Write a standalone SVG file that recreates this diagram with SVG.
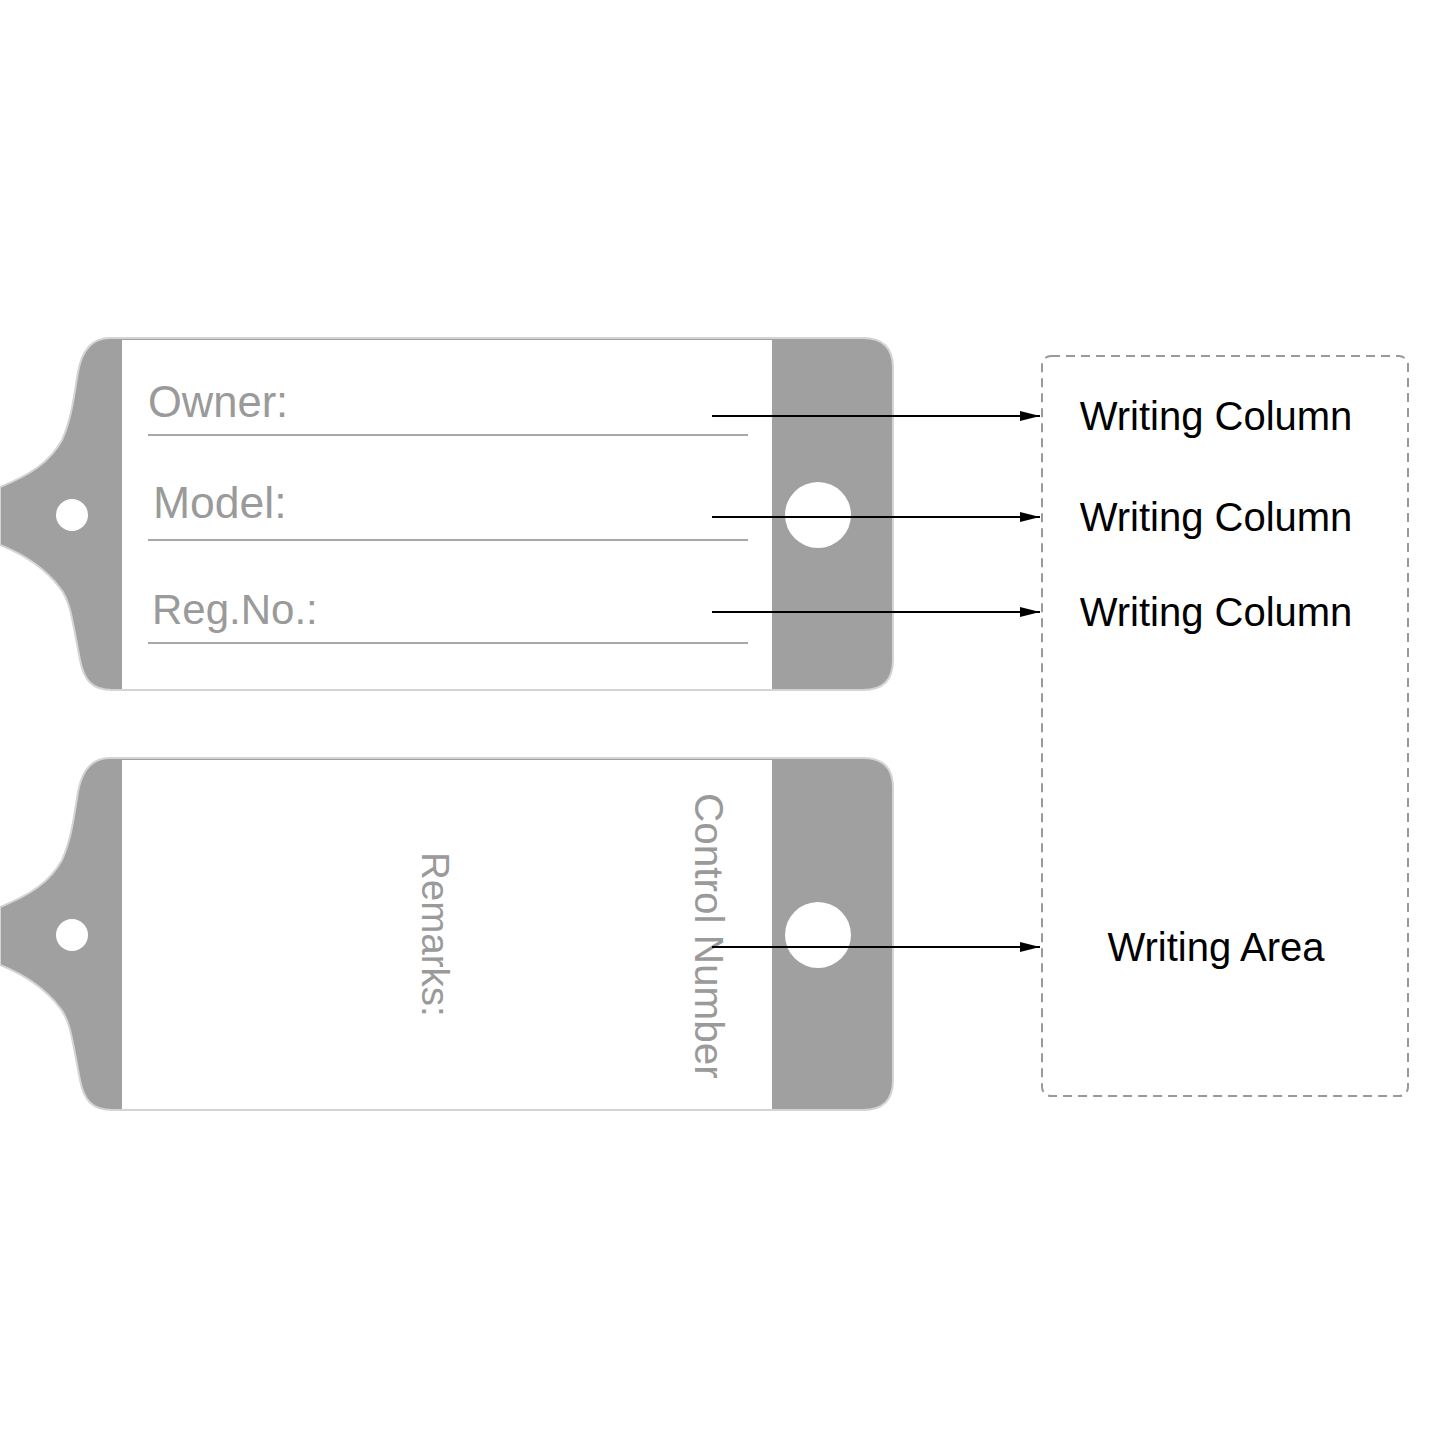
<svg xmlns="http://www.w3.org/2000/svg" width="1445" height="1445" viewBox="0 0 1445 1445">
<style>
.tag{fill:#a0a0a0;stroke:#d4d4d4;stroke-width:2}
.face{fill:#ffffff}
.hole{fill:#ffffff}
.rule{stroke:#a8a8a8;stroke-width:2}
.lbl{font-family:"Liberation Sans",Arial,sans-serif;font-size:42px;fill:#9a9a9a}
.call{font-family:"Liberation Sans",Arial,sans-serif;font-size:40px;fill:#000;text-anchor:middle}
.conn{stroke:#000;stroke-width:2;fill:none;marker-end:url(#arr)}
</style>
<defs>
<marker id="arr" markerWidth="20" markerHeight="10" refX="20" refY="5" orient="auto" markerUnits="userSpaceOnUse">
<path d="M0,0 L20,5 L0,10 Z" fill="#000"/>
</marker>
<path id="tagShape" d="M110 338 L863 338 Q893 338 893 368 L893 660 Q893 690 863 690 L112 690 C92 690 84 680 80 660 C72 618 70 600 60 588 C45 568 25 555 0 545 L0 487 C30 475 50 462 62 440 C72 418 74 395 78 372 C82 350 92 338 110 338 Z"/>
</defs>
<g id="tag-front">
<use href="#tagShape" class="tag"/>
<rect class="face" x="122" y="340" width="650" height="349"/>
<circle class="hole" cx="72" cy="515" r="16"/>
<circle class="hole" cx="818" cy="515" r="33"/>
<text class="lbl" x="148" y="417" style="font-size:43.5px">Owner:</text>
<line class="rule" x1="148" y1="435" x2="748" y2="435"/>
<text class="lbl" x="153" y="518" style="font-size:44.5px">Model:</text>
<line class="rule" x1="148" y1="540" x2="748" y2="540"/>
<text class="lbl" x="152" y="624">Reg.No.:</text>
<line class="rule" x1="148" y1="643" x2="748" y2="643"/>
</g>
<g id="tag-back">
<use href="#tagShape" class="tag" transform="translate(0,420)"/>
<rect class="face" x="122" y="760" width="650" height="349"/>
<circle class="hole" cx="72" cy="935" r="16"/>
<circle class="hole" cx="818" cy="935" r="33"/>
<text class="lbl" transform="translate(422,852) rotate(90)" style="font-size:38.5px">Remarks:</text>
<text class="lbl" transform="translate(695,793) rotate(90)" style="font-size:40.5px">Control Number</text>
</g>
<g id="writing-box">
<rect x="1042" y="356" width="366" height="740" rx="9" fill="none" stroke="#999" stroke-width="2" stroke-dasharray="9 6"/>
<text class="call" x="1216" y="430">Writing Column</text>
<text class="call" x="1216" y="531">Writing Column</text>
<text class="call" x="1216" y="626">Writing Column</text>
<text class="call" x="1216" y="961">Writing Area</text>
</g>
<g id="connectors">
<line class="conn" x1="712" y1="416" x2="1040" y2="416"/>
<line class="conn" x1="712" y1="517" x2="1040" y2="517"/>
<line class="conn" x1="712" y1="612" x2="1040" y2="612"/>
<line class="conn" x1="712" y1="947" x2="1040" y2="947"/>
</g>
</svg>
